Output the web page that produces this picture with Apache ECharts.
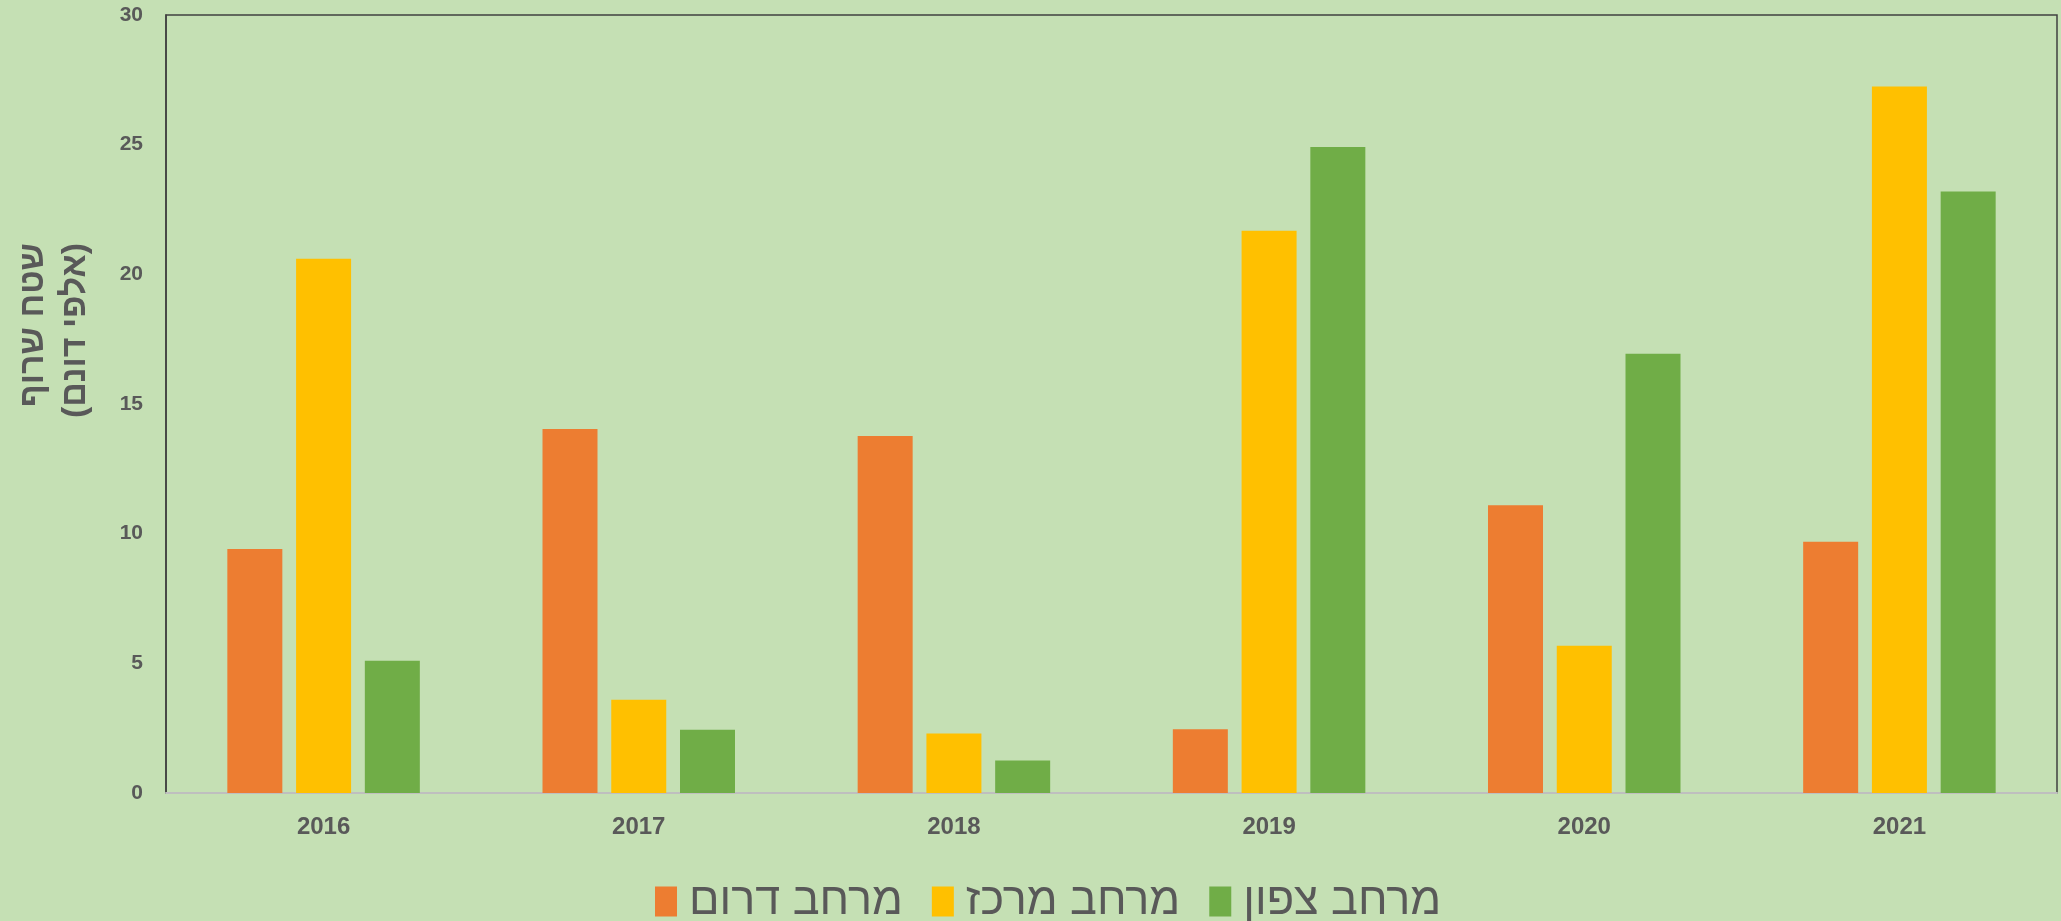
<!DOCTYPE html>
<html>
<head>
<meta charset="utf-8">
<script src="https://cdn.jsdelivr.net/npm/echarts@6/dist/echarts.min.js"></script>
<style>
html,body{margin:0;padding:0;background:#C5E0B4;}
#chart{width:2061px;height:921px;}
</style>
</head>
<body>
<div id="chart"></div>
<script>
const categories = ['2016','2017','2018','2019','2020','2021'];
const seriesNames = ['מרחב דרום','מרחב מרכז','מרחב צפון'];
const southValues = [9.41, 14.04, 13.77, 2.46, 11.10, 9.69];
const centerValues = [20.60, 3.60, 2.29, 21.68, 5.68, 27.24];
const northValues = [5.10, 2.44, 1.25, 24.91, 16.94, 23.19];
const yTitle = 'שטח שרוף\n(אלפי דונם)';

const colors = ['#ED7D31','#FFC000','#70AD47'];
const chart = echarts.init(document.getElementById('chart'), null, {renderer:'canvas'});
const mk = (name, data, color) => ({
  name, type:'bar', data, barWidth:55, barGap:'25%',
  itemStyle:{color}
});
chart.setOption({
  backgroundColor:'#C5E0B4',
  animation:false,
  grid:{left:166, top:15, right:4, bottom:128, show:true, borderColor:'#404040', borderWidth:1.5, backgroundColor:'transparent', containLabel:false},
  legend:{
    left:650, top:874, itemWidth:22, itemHeight:30, itemGap:29,
    icon:'rect',
    textStyle:{fontSize:45, color:'#595959', fontFamily:'Liberation Sans', padding:[0,0,0,7]},
    data:seriesNames
  },
  graphic:[{
    type:'text', x:55, y:243, rotation:Math.PI/2,
    style:{text:yTitle, fill:'#595959', fontSize:34, fontWeight:'bold', fontFamily:'Liberation Sans', align:'right', verticalAlign:'middle', lineHeight:42}
  }],
  xAxis:{
    type:'category', data:categories,
    axisLine:{show:true, lineStyle:{color:'#BFBFBF', width:2}},
    axisTick:{show:false},
    axisLabel:{fontSize:24, fontWeight:'bold', color:'#595959', fontFamily:'Liberation Sans', margin:22},
    splitLine:{show:false}
  },
  yAxis:{
    type:'value', min:0, max:30, interval:5,
    axisLine:{show:true, lineStyle:{color:'#404040', width:1.5}},
    axisTick:{show:false},
    axisLabel:{fontSize:21, fontWeight:'bold', color:'#595959', fontFamily:'Liberation Sans', margin:23},
    splitLine:{show:false}
  },
  series:[
    mk(seriesNames[0], southValues, colors[0]),
    mk(seriesNames[1], centerValues, colors[1]),
    mk(seriesNames[2], northValues, colors[2])
  ]
});
</script>
</body>
</html>
